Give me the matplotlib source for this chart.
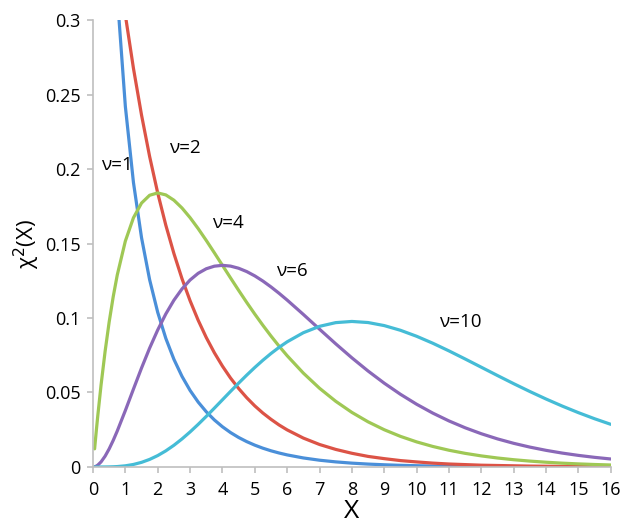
import matplotlib
matplotlib.use("Agg")
import matplotlib.pyplot as plt

# shared x grid
x = [0.05, 0.1, 0.15, 0.25, 0.375, 0.5, 0.625, 0.75, 1.0, 1.25, 1.5, 1.75, 2.0, 2.25, 2.5, 2.75,
     3.0, 3.25, 3.5, 3.75, 4.0, 4.25, 4.5, 4.75, 5.0, 5.25, 5.5, 5.75, 6.0, 6.5, 7.0, 7.5, 8.0,
     8.5, 9.0, 9.5, 10.0, 10.5, 11.0, 11.5, 12.0, 12.5, 13.0, 13.5, 14.0, 14.5, 15.0, 15.5, 16.0]

nu1 = [1.740, 1.2000, 0.9556, 0.7042, 0.5401, 0.4394, 0.3692, 0.3166, 0.2420, 0.1910, 0.1539,
       0.1257, 0.1038, 0.08635, 0.07229, 0.06083, 0.05139, 0.04358, 0.03706, 0.03159, 0.02700,
       0.02311, 0.01982, 0.01703, 0.01465, 0.01261, 0.01087, 0.00939, 0.00811, 0.00607, 0.00455,
       0.00343, 0.00258, 0.00195, 0.00148, 0.00112, 0.00085, 0.00065, 0.00049, 0.00037, 0.00029,
       0.00022, 0.00017, 0.00013, 0.00010, 0.00007, 0.00006, 0.00004, 0.00003]

nu2 = [0.4877, 0.4756, 0.4639, 0.4412, 0.4145, 0.3894, 0.3658, 0.3436, 0.3033, 0.2676, 0.2362,
       0.2084, 0.1839, 0.1623, 0.1433, 0.1264, 0.1116, 0.0985, 0.0869, 0.0767, 0.0677, 0.0597,
       0.0527, 0.0465, 0.0410, 0.0362, 0.0320, 0.0282, 0.0249, 0.0194, 0.0151, 0.0118, 0.0092,
       0.0071, 0.0056, 0.0043, 0.0034, 0.0026, 0.0020, 0.0016, 0.0012, 0.0010, 0.0008, 0.0006,
       0.0005, 0.0004, 0.0003, 0.0002, 0.0002]

nu4 = [0.01219, 0.02378, 0.03479, 0.05516, 0.07772, 0.09735, 0.11431, 0.12887, 0.15163, 0.16727,
       0.17714, 0.18238, 0.18394, 0.18262, 0.17907, 0.17383, 0.16735, 0.15999, 0.15205, 0.14377,
       0.13534, 0.12690, 0.11857, 0.11045, 0.10261, 0.09508, 0.08790, 0.08110, 0.07468, 0.06301,
       0.05284, 0.04410, 0.03663, 0.03031, 0.02500, 0.02055, 0.01685, 0.01378, 0.01124, 0.00915,
       0.00744, 0.00603, 0.00488, 0.00395, 0.00319, 0.00257, 0.00207, 0.00167, 0.00134]

nu6 = [0.00015, 0.00059, 0.00130, 0.00345, 0.00729, 0.01217, 0.01786, 0.02416, 0.03791, 0.05227,
       0.06643, 0.07979, 0.09197, 0.10272, 0.11192, 0.11951, 0.12551, 0.13000, 0.13305, 0.13478,
       0.13534, 0.13483, 0.13339, 0.13116, 0.12826, 0.12479, 0.12086, 0.11658, 0.11202, 0.10239,
       0.09248, 0.08268, 0.07326, 0.06441, 0.05624, 0.04880, 0.04211, 0.03616, 0.03091, 0.02631,
       0.02231, 0.01885, 0.01588, 0.01334, 0.01117, 0.00933, 0.00778, 0.00647, 0.00536]

nu10 = [0.0, 0.0000001, 0.0000006, 0.0000045, 0.0000213, 0.0000634, 0.000145, 0.000283, 0.000790,
        0.001702, 0.003114, 0.005091, 0.007664, 0.010834, 0.014572, 0.018829, 0.023533, 0.028605,
        0.033955, 0.039488, 0.045112, 0.050737, 0.056276, 0.061655, 0.066801, 0.071656, 0.076170,
        0.080300, 0.084016, 0.090122, 0.094404, 0.096892, 0.097685, 0.096952, 0.094903, 0.091758,
        0.087734, 0.083059, 0.077913, 0.072489, 0.066933, 0.061370, 0.055910, 0.050640, 0.045612,
        0.040877, 0.036458, 0.032373, 0.028626]

series = [nu1, nu2, nu4, nu6, nu10]
labels = ["ν=1", "ν=2", "ν=4", "ν=6", "ν=10"]
colors = ["#4a8fd9", "#dc5346", "#9fc855", "#8a68b8", "#45bcd6"]
label_pos = [(0.74, 0.203), (2.84, 0.214), (4.17, 0.164), (6.14, 0.1315), (11.36, 0.0973)]

x_ticks = list(range(0, 17))
y_ticks = [0, 0.05, 0.1, 0.15, 0.2, 0.25, 0.3]
y_tick_labels = ["0", "0.05", "0.1", "0.15", "0.2", "0.25", "0.3"]

plt.rcParams['font.family'] = ['Open Sans', 'DejaVu Sans']

fig = plt.figure(figsize=(6.22, 5.24), dpi=100)
ax = fig.add_axes([0.1495, 0.1088, 0.8325, 0.853])

for s, c in zip(series, colors):
    ax.plot(x, s, color=c, lw=2.3, solid_capstyle='round', solid_joinstyle='round')

for lab, (lx, ly) in zip(labels, label_pos):
    ax.text(lx, ly, lab, ha='center', va='center', fontsize=13.5, color='black')

ax.set_xlim(0, 16)
ax.set_ylim(0, 0.3)
ax.set_xticks(x_ticks)
ax.set_xticklabels([str(t) for t in x_ticks])
ax.set_yticks(y_ticks)
ax.set_yticklabels(y_tick_labels)

for sp in ['top', 'right']:
    ax.spines[sp].set_visible(False)
for sp in ['left', 'bottom']:
    ax.spines[sp].set_color('#bfbfbf')
    ax.spines[sp].set_linewidth(1.2)

ax.tick_params(axis='both', which='major', labelsize=13, color='#bfbfbf',
               length=4, width=1.2, direction='out', pad=5)
ax.tick_params(axis='x', pad=6)

ax.set_xlabel("X", fontsize=19, labelpad=0)
ax.set_ylabel("χ$^2$(X)", fontsize=16, labelpad=2)

fig.savefig("out.png", dpi=100)
